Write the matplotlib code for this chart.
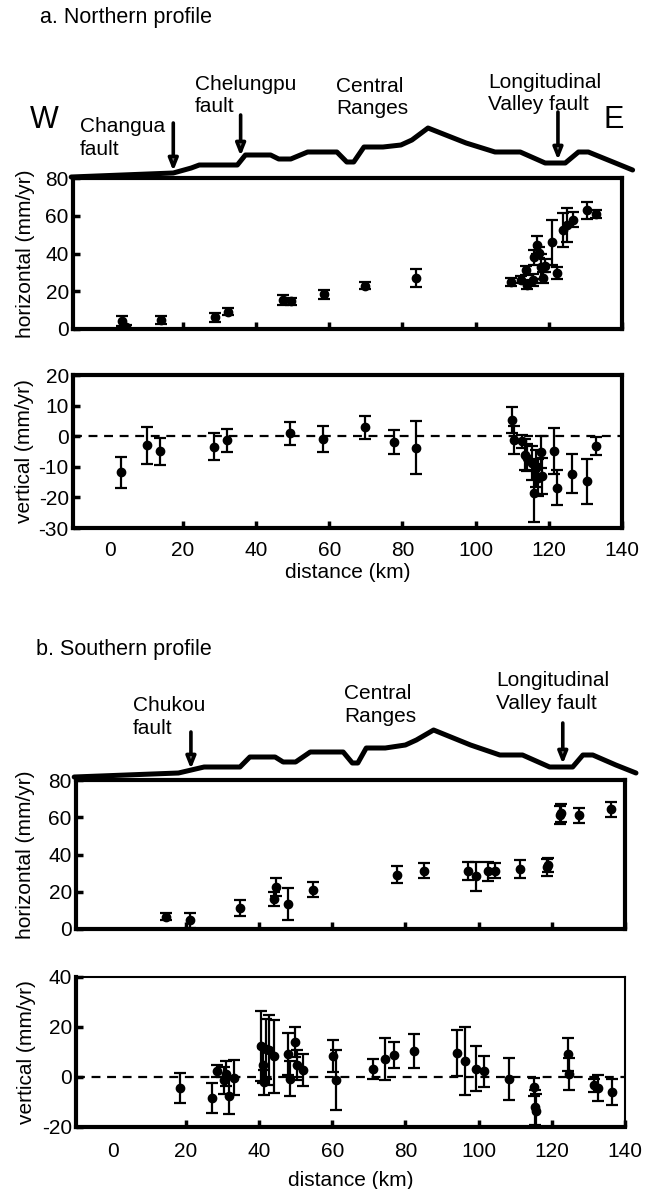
import matplotlib
matplotlib.use("Agg")
import matplotlib.pyplot as plt

plt.rcParams['font.family'] = ['Liberation Sans', 'DejaVu Sans']
plt.rcParams['axes.unicode_minus'] = False

# ---------------- data ----------------
# Northern profile, horizontal velocity (km, mm/yr, error)
ha_x = [3.4, 4.6, 14.1, 28.7, 32.3, 47.4, 49.6, 58.5, 69.8, 83.8, 109.8, 112.5, 113.8, 114.1,
        115.6, 116.0, 116.8, 117.3, 117.9, 118.4, 118.9, 121.0, 122.3, 124.0, 124.9, 126.6, 130.5, 133.0]
ha_v = [4.2, 0.8, 4.8, 6.3, 9.2, 15.3, 14.6, 18.3, 23.0, 27.0, 25.0, 26.2, 31.0, 23.5,
        26.0, 38.0, 44.5, 40.5, 33.0, 27.2, 33.5, 46.0, 29.6, 52.5, 55.0, 58.0, 62.8, 61.0]
ha_e = [2.8, 1.2, 2.2, 2.4, 2.0, 2.6, 2.0, 2.3, 2.0, 4.6, 2.2, 2.0, 2.5, 2.2,
        3.0, 4.0, 5.0, 3.0, 6.5, 3.0, 3.5, 12.0, 3.0, 9.0, 9.0, 4.0, 4.5, 2.0]

# Northern profile, vertical velocity
va_x = [3.0, 10.2, 13.9, 28.5, 32.1, 49.4, 58.4, 69.8, 77.8, 83.7, 109.9, 110.4, 112.6, 113.5,
        114.0, 115.5, 115.9, 116.6, 117.0, 118.0, 118.2, 121.4, 122.3, 126.4, 130.4, 133.0]
va_v = [-11.8, -3.0, -4.9, -3.4, -1.4, 0.9, -0.9, 2.9, -1.8, -3.7, 5.3, -1.3, -1.7, -6.0,
        -7.0, -8.8, -18.7, -10.5, -13.5, -5.2, -13.0, -4.7, -16.8, -12.3, -14.8, -3.2]
va_e = [5.0, 6.0, 4.4, 4.3, 3.7, 3.8, 4.1, 3.8, 3.9, 8.7, 4.1, 4.5, 2.0, 5.0,
        4.5, 5.5, 9.5, 6.0, 6.0, 5.2, 6.0, 7.5, 5.6, 6.4, 7.3, 2.8]

# Southern profile, horizontal velocity
hb_x = [14.7, 21.2, 34.8, 44.0, 44.6, 48.0, 54.8, 77.7, 85.2, 97.1, 99.4, 102.7, 104.4, 111.4,
        118.6, 119.0, 122.3, 122.6, 127.4, 136.2]
hb_v = [6.7, 4.6, 11.3, 16.0, 22.5, 13.5, 21.2, 29.2, 31.4, 31.2, 28.3, 31.0, 31.3, 32.3,
        33.2, 34.2, 61.0, 62.3, 61.0, 64.3]
hb_e = [1.8, 3.8, 4.3, 3.9, 5.0, 8.4, 3.9, 4.7, 3.8, 5.0, 7.7, 5.0, 4.0, 4.7,
        4.6, 3.8, 4.8, 5.0, 4.0, 3.9]

# Southern profile, vertical velocity
vb_x = [18.3, 27.1, 28.6, 30.5, 31.0, 31.8, 33.1, 40.6, 41.0, 41.5, 41.8, 42.7, 44.1, 47.8,
        48.5, 49.9, 50.4, 52.0, 60.2, 61.0, 71.1, 74.3, 77.0, 82.4, 94.0, 96.2, 99.4, 101.4,
        108.2, 115.2, 115.5, 115.7, 124.4, 124.8, 131.5, 132.7, 136.4]
vb_v = [-4.4, -8.4, 2.4, -1.3, 1.3, -7.6, -0.3, 12.3, 4.7, -2.0, 11.3, 10.9, 8.3, 9.3,
        -0.7, 14.0, 4.9, 2.9, 8.3, -1.3, 3.3, 7.3, 8.9, 10.4, 9.7, 6.5, 3.3, 2.4,
        -0.7, -4.0, -12.0, -13.6, 9.1, 1.1, -3.3, -4.4, -6.0]
vb_e = [6.0, 6.0, 2.3, 5.5, 5.0, 7.0, 7.0, 14.0, 7.0, 5.0, 12.0, 14.0, 14.7, 8.4,
        7.0, 6.0, 6.0, 6.3, 6.4, 12.0, 4.0, 8.5, 5.3, 6.8, 9.2, 13.5, 9.0, 6.2,
        8.3, 3.5, 7.0, 7.0, 6.5, 6.4, 2.7, 5.3, 5.3]

# Topographic sketch profiles (km, relative elevation)
topo_a_x = [-10.5, 17.4, 22.3, 24.5, 34.9, 37.1, 44.0, 46.2, 49.5, 54.1, 62.1, 64.8, 66.7, 69.5,
            74.7, 79.6, 82.6, 87.0, 97.4, 105.3, 112.2, 119.0, 124.5, 128.1, 130.8, 138.2, 142.9]
topo_a_h = [1, 5, 10, 13, 13, 23, 23, 19, 19, 26, 26, 16, 16, 31,
            31, 33, 38, 50, 35, 26, 26, 15, 15, 26, 26, 15, 8]
topo_b_x = [-10.5, 18, 25, 34.8, 37.5, 44.4, 46.6, 50, 54, 63, 65.5, 67, 69.3, 74.5,
            80, 83, 87.7, 97.8, 105.8, 112, 119.4, 125.7, 128.5, 131.2, 137.5, 143]
topo_b_h = [3, 7, 13, 13, 23, 23, 18, 18, 28, 28, 17, 17, 32, 32,
            35, 40, 50, 35, 25, 25, 13, 13, 25, 25, 15, 7]

# Fault arrows: (km, tail elevation, tip elevation)
faults_a = [("Changua", 17.4, 55, 7), ("Chelungpu", 35.8, 63, 22), ("LVF", 122.5, 66, 18)]
faults_b = [("Chukou", 21.4, 48, 11), ("LVF", 123.0, 57, 16)]

x_ticks = [0, 20, 40, 60, 80, 100, 120, 140]

# ---------------- figure ----------------
W, H = 647, 1189
fig = plt.figure(figsize=(W / 100, H / 100), dpi=100)


def box(l, t, r, b):
    return [l / W, 1 - b / H, (r - l) / W, (b - t) / H]


FS = 15


def style(ax, ylim, yticks, show_xlabels, thin_tr=False, pad=8):
    ax.set_xlim(-10, 140)
    ax.set_ylim(*ylim)
    ax.set_xticks(x_ticks)
    ax.set_yticks(yticks)
    for s in ax.spines.values():
        s.set_linewidth(3)
    if thin_tr:
        ax.spines['top'].set_linewidth(1.5)
        ax.spines['right'].set_linewidth(1.5)
    ax.tick_params(direction='in', length=5, width=2.5, labelsize=FS, pad=pad)
    ax.tick_params(axis='y', pad=3)
    ax.xaxis.get_major_ticks()[0].tick1line.set_visible(False)
    if not show_xlabels:
        ax.tick_params(axis='x', labelbottom=False)


def eb(ax, x, y, e):
    ax.errorbar(x, y, yerr=e, fmt='o', color='black', ms=6, elinewidth=1.6,
                capsize=4, capthick=1.6, zorder=3)


def topo(l, t, r, xs, hs, faults):
    axt = fig.add_axes(box(l, t - 80, r, t))
    axt.set_xlim(-10, 140)
    axt.set_ylim(0, 80)
    axt.axis('off')
    axt.plot(xs, hs, color='black', lw=3.6, clip_on=False, solid_joinstyle='round',
             solid_capstyle='round')
    for name, km, tail, tip in faults:
        axt.annotate('', xy=(km, tip), xytext=(km, tail),
                     arrowprops=dict(arrowstyle='-|>,head_length=0.7,head_width=0.28',
                                     lw=2.6, fc='#7a7a7a', ec='black', shrinkA=0, shrinkB=0),
                     annotation_clip=False)
    return axt


# Northern profile
L, R = 73, 622
ax1 = fig.add_axes(box(L, 178, R, 329))
eb(ax1, ha_x, ha_v, ha_e)
style(ax1, (0, 80), [0, 20, 40, 60, 80], False)
topo(L, 178, R, topo_a_x, topo_a_h, faults_a)

ax2 = fig.add_axes(box(L, 375, R, 528))
ax2.axhline(0, color='black', lw=1.6, ls=(0, (4, 3)), zorder=1)
eb(ax2, va_x, va_v, va_e)
style(ax2, (-30, 20), [-30, -20, -10, 0, 10, 20], True, pad=9)

# Southern profile
L2, R2 = 76, 625
ax3 = fig.add_axes(box(L2, 780, R2, 929))
eb(ax3, hb_x, hb_v, hb_e)
style(ax3, (0, 80), [0, 20, 40, 60, 80], False)
topo(L2, 780, R2, topo_b_x, topo_b_h, faults_b)

ax4 = fig.add_axes(box(L2, 977, R2, 1127))
ax4.axhline(0, color='black', lw=1.6, ls=(0, (4, 3)), zorder=1)
eb(ax4, vb_x, vb_v, vb_e)
style(ax4, (-20, 40), [-20, 0, 20, 40], True, thin_tr=True, pad=11)


def ftext(x, y, s, **kw):
    kw.setdefault('fontsize', FS)
    kw.setdefault('va', 'center')
    kw.setdefault('ha', 'left')
    fig.text(x / W, 1 - y / H, s, **kw)


# axis titles
ftext(26, (178 + 329) / 2, "horizontal (mm/yr)", rotation=90, ha='center')
ftext(24, (375 + 528) / 2, "vertical (mm/yr)", rotation=90, ha='center')
ftext(26, (780 + 929) / 2, "horizontal (mm/yr)", rotation=90, ha='center')
ftext(26, (977 + 1127) / 2, "vertical (mm/yr)", rotation=90, ha='center')
ftext((L + R) / 2, 572, "distance (km)", ha='center')
ftext((L2 + R2) / 2, 1180, "distance (km)", ha='center')

# panel titles
ftext(40, 18, "a. Northern profile", fontsize=15.5)
ftext(36, 650, "b. Southern profile", fontsize=15.5)

# feature labels, northern
ftext(30, 120, "W", fontsize=22)
ftext(604, 120, "E", fontsize=22)
ftext(80, 138, "Changua\nfault", linespacing=1.25)
ftext(195, 96, "Chelungpu\nfault", linespacing=1.2)
ftext(336, 97, "Central\nRanges", linespacing=1.2)
ftext(488, 93, "Longitudinal\nValley fault", linespacing=1.2)

# feature labels, southern
ftext(133, 717, "Chukou\nfault", linespacing=1.25)
ftext(344, 705, "Central\nRanges", linespacing=1.25)
ftext(496, 692, "Longitudinal\nValley fault", linespacing=1.25)

fig.savefig("out.png", dpi=100)
